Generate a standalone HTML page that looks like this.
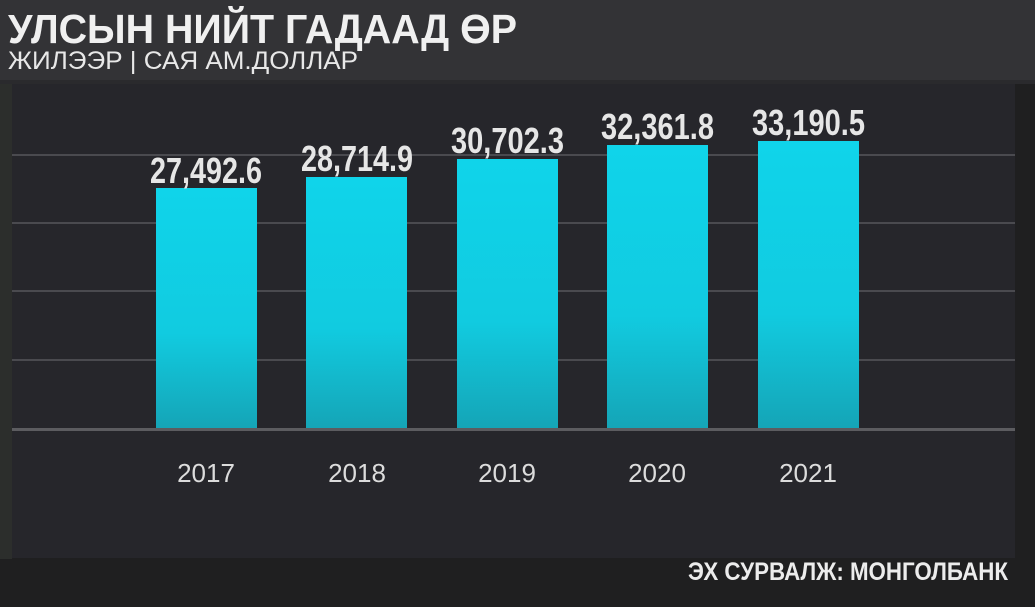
<!DOCTYPE html>
<html><head><meta charset="utf-8"><style>
html,body{margin:0;padding:0;background:#1f1f20;}
svg{display:block}
</style></head><body>
<svg width="1035" height="607" xmlns="http://www.w3.org/2000/svg">
<defs>
<linearGradient id="bg" x1="0" y1="0" x2="0" y2="1">
<stop offset="0" stop-color="#10d4ea"/><stop offset="0.6" stop-color="#11cbe0"/><stop offset="1" stop-color="#15a4b6"/>
</linearGradient>
</defs>
<rect width="1035" height="607" fill="#1f1f20"/>
<rect x="0" y="0" width="1035" height="80" fill="#333336"/>
<rect x="0" y="80" width="1035" height="4" fill="#2a2a2d"/>
<rect x="0" y="84" width="12" height="475" fill="#2c2e2c"/>
<rect x="12" y="84" width="1003" height="474" fill="#26262b"/>
<g stroke="#4a4a4f" stroke-width="2">
<line x1="12" y1="155" x2="1015" y2="155"/>
<line x1="12" y1="223" x2="1015" y2="223"/>
<line x1="12" y1="291" x2="1015" y2="291"/>
<line x1="12" y1="360" x2="1015" y2="360"/>
</g>
<g fill="url(#bg)">
<rect x="156" y="188" width="101" height="242"/>
<rect x="306" y="177" width="101" height="253"/>
<rect x="457" y="159" width="101" height="271"/>
<rect x="607" y="145" width="101" height="285"/>
<rect x="758" y="141" width="101" height="289"/>
</g>
<rect x="12" y="428" width="1003" height="3" fill="#5c5c60"/>
<g font-family="Liberation Sans, sans-serif" font-weight="bold" fill="#e6e6e6" font-size="36">
<text x="150" y="183" textLength="112" lengthAdjust="spacingAndGlyphs">27,492.6</text>
<text x="301" y="171" textLength="112" lengthAdjust="spacingAndGlyphs">28,714.9</text>
<text x="451" y="153" textLength="113" lengthAdjust="spacingAndGlyphs">30,702.3</text>
<text x="601" y="139" textLength="113" lengthAdjust="spacingAndGlyphs">32,361.8</text>
<text x="752" y="135" textLength="113" lengthAdjust="spacingAndGlyphs">33,190.5</text>
</g>
<g font-family="Liberation Sans, sans-serif" fill="#dcdcdc" font-size="26" text-anchor="middle">
<text x="206" y="482">2017</text>
<text x="357" y="482">2018</text>
<text x="507" y="482">2019</text>
<text x="657" y="482">2020</text>
<text x="808" y="482">2021</text>
</g>
<text x="8" y="43" font-family="Liberation Sans, sans-serif" font-weight="bold" font-size="41" fill="#f0f0f0" textLength="509" lengthAdjust="spacingAndGlyphs">УЛСЫН НИЙТ ГАДААД ӨР</text>
<text x="8" y="69" font-family="Liberation Sans, sans-serif" font-size="25" fill="#e8e8e8" textLength="350" lengthAdjust="spacingAndGlyphs">ЖИЛЭЭР | САЯ АМ.ДОЛЛАР</text>
<text x="688" y="580" font-family="Liberation Sans, sans-serif" font-weight="bold" font-size="25" fill="#ececec" textLength="320" lengthAdjust="spacingAndGlyphs">ЭХ СУРВАЛЖ: МОНГОЛБАНК</text>
</svg>
</body></html>
